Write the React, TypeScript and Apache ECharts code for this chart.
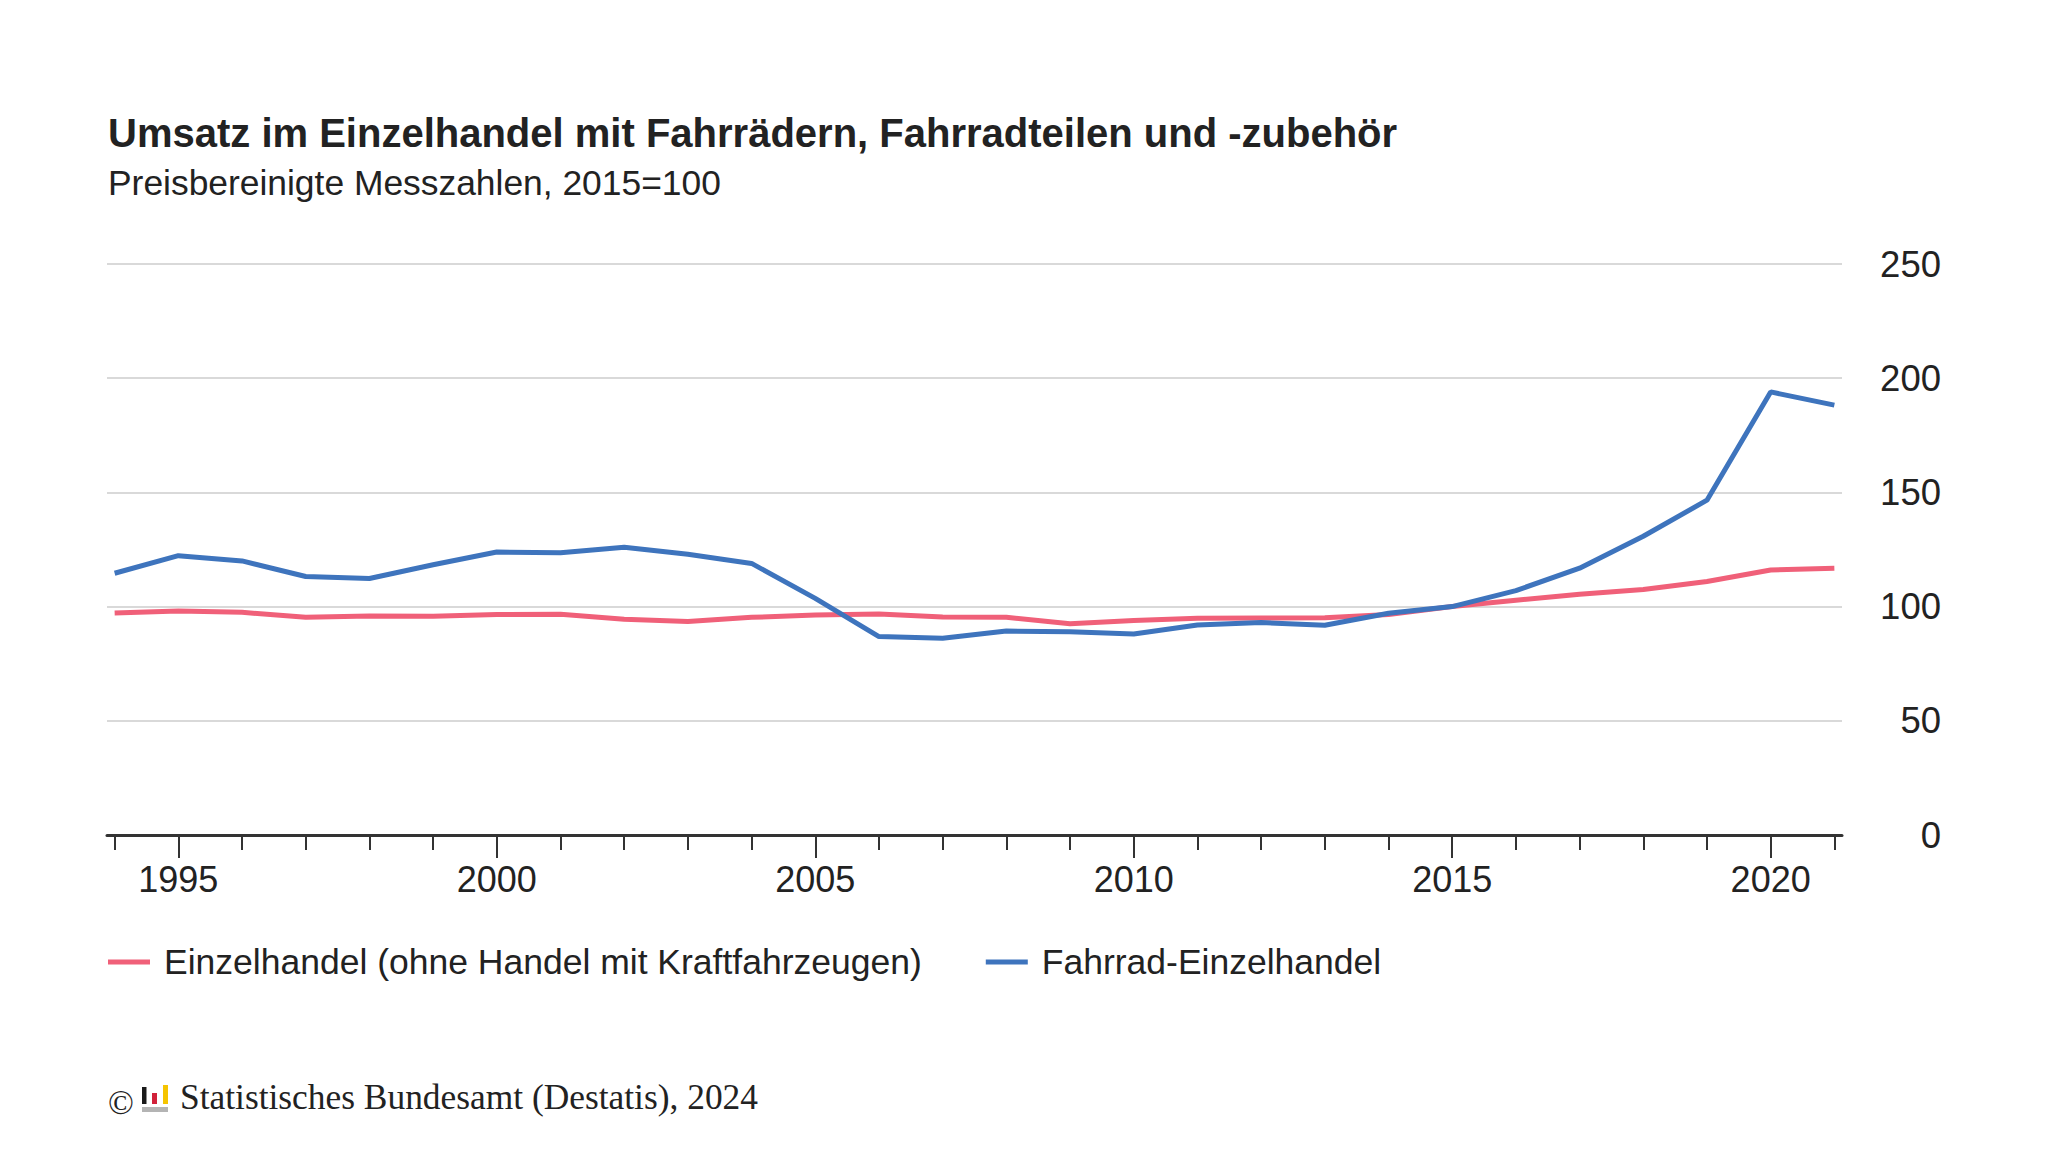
import React, { useEffect, useRef } from "react";
import * as echarts from "echarts";

const years = [1994, 1995, 1996, 1997, 1998, 1999, 2000, 2001, 2002, 2003, 2004, 2005, 2006, 2007, 2008, 2009, 2010, 2011, 2012, 2013, 2014, 2015, 2016, 2017, 2018, 2019, 2020, 2021];
const labelYears = [1995, 2000, 2005, 2010, 2015, 2020];
const einzelhandel = [97.2, 98.1, 97.5, 95.3, 95.9, 95.8, 96.5, 96.7, 94.5, 93.5, 95.3, 96.3, 96.8, 95.4, 95.3, 92.5, 93.9, 94.9, 95.0, 95.1, 96.5, 100, 102.8, 105.4, 107.5, 111.0, 116.0, 116.8];
const fahrrad = [114.6, 122.3, 120.0, 113.2, 112.3, 118.3, 123.9, 123.6, 126.0, 122.9, 118.9, 103.6, 86.9, 86.1, 89.3, 89.0, 88.0, 91.9, 93.0, 91.8, 97.1, 100, 107.0, 116.8, 130.8, 146.6, 194.0, 188.2];
const seriesNames = ["Einzelhandel (ohne Handel mit Kraftfahrzeugen)", "Fahrrad-Einzelhandel"];
const seriesColors = ["#f06079", "#3e74bd"];
const titleText = "Umsatz im Einzelhandel mit Fahrrädern, Fahrradteilen und -zubehör";
const subtitleText = "Preisbereinigte Messzahlen, 2015=100";
const sourceText = "Statistisches Bundesamt (Destatis), 2024";

const SANS = "'Liberation Sans', Arial, sans-serif";
const SERIF = "'Liberation Serif', 'Times New Roman', serif";

export default function App() {
  const ref = useRef<HTMLDivElement>(null);
  useEffect(() => {
    document.body.style.margin = "0";
    if (!ref.current) return;
    const chart = echarts.init(ref.current, undefined, { renderer: "svg" });
    const xMin = 1993.88;
    const xMax = 2021.12;
    const option: any = {
      animation: false,
      backgroundColor: "#ffffff",
      textStyle: { fontFamily: SANS },
      title: [
        {
          text: titleText,
          left: 108,
          top: 113,
          padding: 0,
          textStyle: { fontSize: 40, fontWeight: "bold", color: "#222222", fontFamily: SANS },
        },
        {
          text: subtitleText,
          left: 108,
          top: 165,
          padding: 0,
          textStyle: { fontSize: 35.4, fontWeight: "normal", color: "#222222", fontFamily: SANS },
        },
      ],
      grid: { left: 107, right: 206, top: 264, bottom: 317, containLabel: false },
      legend: {
        left: 108,
        top: 944,
        padding: 0,
        itemWidth: 42,
        itemHeight: 5,
        itemGap: 64,
        icon: "rect",
        data: seriesNames,
        textStyle: { fontSize: 35.5, color: "#222222", fontFamily: SANS, padding: [0, 0, 0, 9] },
      },
      xAxis: [
        {
          type: "value",
          min: xMin,
          max: xMax,
          position: "bottom",
          axisLine: { show: true, lineStyle: { color: "#333333", width: 3 } },
          axisTick: { show: true, customValues: years, length: 15, lineStyle: { color: "#333333", width: 2 } },
          axisLabel: { show: false },
          splitLine: { show: false },
        },
        {
          type: "value",
          min: xMin,
          max: xMax,
          position: "bottom",
          axisLine: { show: false },
          axisTick: { show: true, customValues: labelYears, length: 23, lineStyle: { color: "#333333", width: 2 } },
          axisLabel: {
            show: true,
            customValues: labelYears,
            formatter: (v: number) => String(v),
            fontSize: 36,
            color: "#222222",
            margin: 26,
            fontFamily: SANS,
          },
          splitLine: { show: false },
        },
      ],
      yAxis: {
        type: "value",
        position: "right",
        min: 0,
        max: 250,
        interval: 50,
        axisLine: { show: false },
        axisTick: { show: false },
        axisLabel: { fontSize: 36.5, color: "#222222", align: "right", margin: 99, fontFamily: SANS },
        splitLine: { show: true, lineStyle: { color: "#cccccc", width: 1.5 } },
      },
      series: [
        {
          name: seriesNames[0],
          type: "line",
          xAxisIndex: 0,
          data: years.map((y, i) => [y, einzelhandel[i]]),
          showSymbol: false,
          symbol: "none",
          itemStyle: { color: seriesColors[0] },
          lineStyle: { color: seriesColors[0], width: 5 },
          z: 2,
        },
        {
          name: seriesNames[1],
          type: "line",
          xAxisIndex: 0,
          data: years.map((y, i) => [y, fahrrad[i]]),
          showSymbol: false,
          symbol: "none",
          itemStyle: { color: seriesColors[1] },
          lineStyle: { color: seriesColors[1], width: 5 },
          z: 3,
        },
      ],
      graphic: [
        {
          type: "text",
          left: 108,
          top: 1085,
          style: { text: "©", font: `34px ${SERIF}`, fill: "#222222" },
        },
        { type: "rect", shape: { x: 142, y: 1087, width: 4.5, height: 17 }, style: { fill: "#1a1a1a" } },
        { type: "rect", shape: { x: 152, y: 1093, width: 5, height: 11 }, style: { fill: "#d1213a" } },
        { type: "rect", shape: { x: 163, y: 1085, width: 5, height: 19 }, style: { fill: "#f5c400" } },
        { type: "rect", shape: { x: 142, y: 1107, width: 26, height: 5 }, style: { fill: "#b4b4b4" } },
        {
          type: "text",
          left: 180,
          top: 1079,
          style: { text: sourceText, font: `35.4px ${SERIF}`, fill: "#222222" },
        },
      ],
    };
    chart.setOption(option);
    return () => chart.dispose();
  }, []);
  return <div ref={ref} style={{ width: 2048, height: 1152, position: "absolute", left: 0, top: 0 }} />;
}
